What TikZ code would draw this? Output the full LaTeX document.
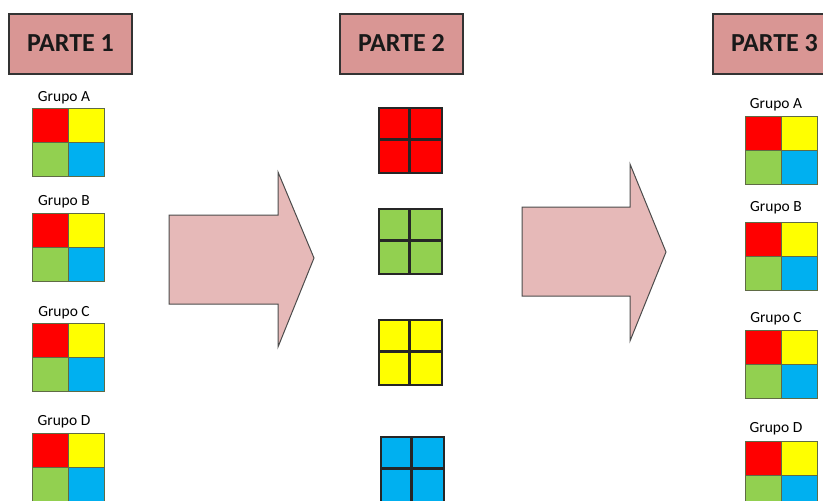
\documentclass[tikz,border=0pt]{standalone}
\usepackage{fontspec}
\setmainfont{Carlito}
\definecolor{cred}{HTML}{FF0000}
\definecolor{cyel}{HTML}{FFFF00}
\definecolor{cgrn}{HTML}{92D050}
\definecolor{cblu}{HTML}{00B0F0}
\definecolor{boxfill}{HTML}{D99694}
\definecolor{arrfill}{HTML}{E6B9B8}
\definecolor{qborder}{HTML}{5F6B45}
\newcommand{\quadgrp}[3]{% name, x, y (top-left)
  \begin{scope}[shift={(#2,#3)}]
    \fill[cred] (0,0) rectangle (36,34);
    \fill[cyel] (36,0) rectangle (72,34);
    \fill[cgrn] (0,34) rectangle (36,68);
    \fill[cblu] (36,34) rectangle (72,68);
    \draw[qborder, line width=1pt] (36,0) -- (36,68) (0,34) -- (72,34);
    \node[draw=qborder, line width=1pt, minimum width=72pt, minimum height=68pt, inner sep=0pt, anchor=north west] (#1) at (0,0) {};
  \end{scope}}
\newcommand{\monogrp}[4]{% name, colour, x, y (top-left)
  \begin{scope}[shift={(#3,#4)}]
    \fill[#2] (0,0) rectangle (63,65);
    \draw[black!85, line width=2.4pt] (31.5,0) -- (31.5,65) (0,32.5) -- (63,32.5);
    \node[draw=black!85, line width=2.4pt, minimum width=63pt, minimum height=65pt, inner sep=0pt, anchor=north west] (#1) at (0,0) {};
  \end{scope}}
\begin{document}
\begin{tikzpicture}[x=1pt, y=-1pt,
  title/.style={draw=black!80, line width=1.3pt, fill=boxfill, minimum width=123pt, minimum height=60pt, inner sep=0pt, font=\bfseries\fontsize{26}{26}\selectfont, text=black!90},
  lbl/.style={font=\fontsize{15.5}{15.5}\selectfont, inner sep=0pt},
  bigarrow/.style={draw=black!70, line width=1pt, fill=arrfill, line join=miter}]
\useasboundingbox (0,0) rectangle (823,501);
% titles
\node[title] (t1) at (70.5,44) {\raisebox{2pt}{PARTE 1}};
\node[title] (t2) at (401.5,44) {\raisebox{2pt}{PARTE 2}};
\node[title] (t3) at (774.5,44) {\raisebox{2pt}{PARTE 3}};
% left groups
\node[lbl] (la) at (64,98) {Grupo A};
\quadgrp{ga}{32}{108}
\node[lbl] (lb) at (64,202) {Grupo B};
\quadgrp{gb}{32}{213}
\node[lbl] (lc) at (64,313) {Grupo C};
\quadgrp{gc}{32}{323}
\node[lbl] (ld) at (64,422) {Grupo D};
\quadgrp{gd}{32}{433}
% middle squares
\monogrp{mr}{cred}{378}{107}
\monogrp{mg}{cgrn}{378}{208}
\monogrp{my}{cyel}{378}{319}
\monogrp{mb}{cblu}{380}{436}
% right groups
\node[lbl] (ra) at (776,105) {Grupo A};
\quadgrp{ha}{745}{116}
\node[lbl] (rb) at (776,208) {Grupo B};
\quadgrp{hb}{745}{222}
\node[lbl] (rc) at (776,319) {Grupo C};
\quadgrp{hc}{745}{330}
\node[lbl] (rd) at (776,429) {Grupo D};
\quadgrp{hd}{745}{441}
% block arrows
\draw[bigarrow] (169,215) -- (278,215) -- (278,172) -- (314,258) -- (278,347) -- (278,304) -- (169,304) -- cycle;
\draw[bigarrow] (522,207) -- (630,207) -- (630,164) -- (666,252) -- (630,341) -- (630,296) -- (522,296) -- cycle;
\end{tikzpicture}
\end{document}
